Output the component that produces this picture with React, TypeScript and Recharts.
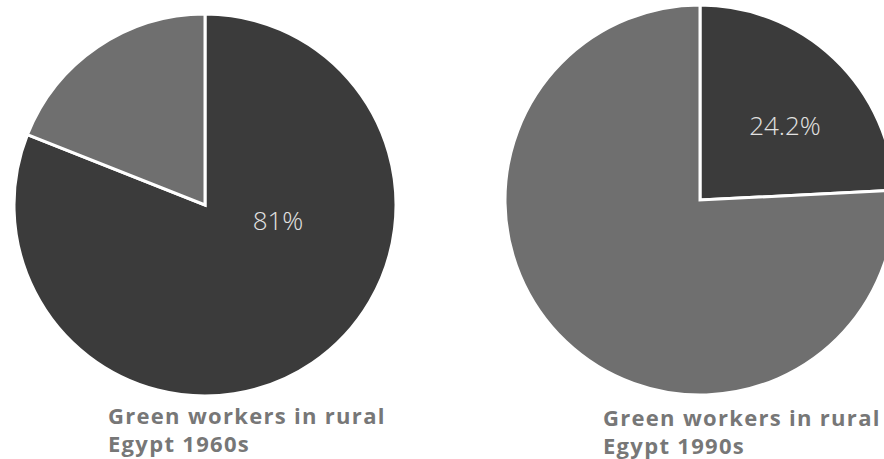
import { PieChart, Pie, Cell } from "recharts";

const SEGMENTS = ["Green workers", "Other workers"];
const SHARE_1960S = [81, 19];
const SHARE_1990S = [24.2, 75.8];
const TITLES = ["Green workers in rural\nEgypt 1960s", "Green workers in rural\nEgypt 1990s"];

const COLORS = ["#3b3b3b", "#6f6f6f"];

const toRows = (values: number[]) =>
  SEGMENTS.map((name, i) => ({ name, value: values[i] }));

// label only on the green-workers slice; placement given per pie
function makeLabel(dx: number, dy: number) {
  return (props: any) => {
    if (props.index !== 0) return null;
    return (
      <text
        x={props.cx + dx}
        y={props.cy + dy}
        fill="#e2e2e2"
        textAnchor="middle"
        dominantBaseline="central"
        style={{ fontFamily: "'Open Sans', sans-serif", fontWeight: 300, fontSize: 26 }}
      >
        {`${props.value}%`}
      </text>
    );
  };
}

function Title({ text, left, top }: { text: string; left: number; top: number }) {
  return (
    <div
      style={{
        position: "absolute",
        left,
        top,
        fontFamily: "'Open Sans', sans-serif",
        fontWeight: 700,
        fontSize: 22,
        letterSpacing: 1.3,
        lineHeight: "28px",
        color: "#777777",
        whiteSpace: "pre",
      }}
    >
      {text}
    </div>
  );
}

export default function App() {
  return (
    <div
      style={{
        position: "absolute",
        left: 0,
        top: 0,
        width: 884,
        height: 459,
        overflow: "hidden",
        background: "#ffffff",
      }}
    >
      <PieChart width={884} height={459} margin={{ top: 0, right: 0, bottom: 0, left: 0 }}>
        <Pie
          data={toRows(SHARE_1960S)}
          dataKey="value"
          nameKey="name"
          cx={205}
          cy={205}
          outerRadius={191}
          startAngle={90}
          endAngle={-270}
          stroke="#ffffff"
          strokeWidth={3}
          labelLine={false}
          label={makeLabel(73, 15)}
          isAnimationActive={false}
        >
          {SHARE_1960S.map((_, i) => (
            <Cell key={i} fill={COLORS[i]} />
          ))}
        </Pie>
        <Pie
          data={toRows(SHARE_1990S)}
          dataKey="value"
          nameKey="name"
          cx={700}
          cy={200}
          outerRadius={195}
          startAngle={90}
          endAngle={-270}
          stroke="#ffffff"
          strokeWidth={3}
          labelLine={false}
          label={makeLabel(85, -75)}
          isAnimationActive={false}
        >
          {SHARE_1990S.map((_, i) => (
            <Cell key={i} fill={COLORS[i]} />
          ))}
        </Pie>
      </PieChart>
      <Title text={TITLES[0]} left={108} top={401} />
      <Title text={TITLES[1]} left={603} top={403} />
    </div>
  );
}
